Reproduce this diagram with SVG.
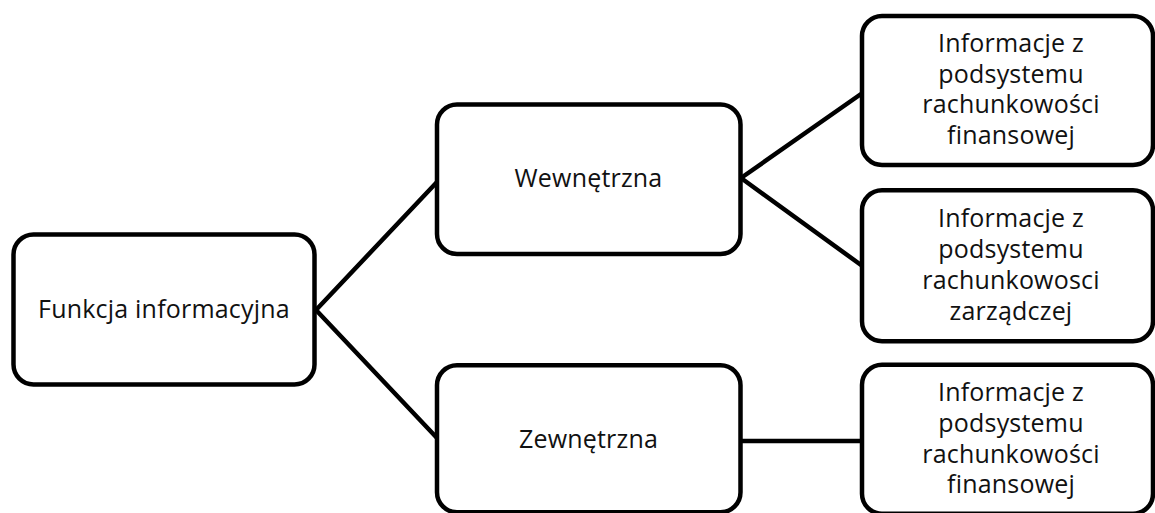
<svg xmlns="http://www.w3.org/2000/svg" width="1155" height="513" viewBox="0 0 1155 513">
  <style>
    .box { fill: #ffffff; stroke: #000000; stroke-width: 4.5; }
    .link { stroke: #000000; stroke-width: 4.5; fill: none; stroke-linecap: round; }
    .lbl { font-family: "Open Sans", Lato, "Liberation Sans", sans-serif; font-size: 25px; letter-spacing: 0.2px; fill: #111111; text-anchor: middle; }
  </style>
  <rect x="0" y="0" width="1155" height="513" fill="#ffffff"/>

  <g id="connectors">
    <line class="link" x1="316" y1="310" x2="437" y2="182"/>
    <line class="link" x1="316" y1="310" x2="437" y2="438"/>
    <line class="link" x1="741" y1="178" x2="861" y2="94"/>
    <line class="link" x1="741" y1="178" x2="861" y2="265"/>
    <line class="link" x1="741" y1="441" x2="861" y2="441"/>
  </g>

  <g id="node-funkcja">
    <rect class="box" x="13.5" y="234.5" width="301" height="150" rx="20"/>
    <text class="lbl" x="164" y="318">Funkcja informacyjna</text>
  </g>

  <g id="node-wewnetrzna">
    <rect class="box" x="437" y="104.5" width="303.5" height="149.5" rx="20"/>
    <text class="lbl" x="588.5" y="187">Wewnętrzna</text>
  </g>

  <g id="node-zewnetrzna">
    <rect class="box" x="437" y="365.3" width="303.5" height="147" rx="20"/>
    <text class="lbl" x="588.5" y="448">Zewnętrzna</text>
  </g>

  <g id="node-fin-wew">
    <rect class="box" x="862" y="16" width="291" height="149" rx="20"/>
    <text class="lbl" x="1011" y="52">Informacje z</text>
    <text class="lbl" x="1011" y="82.5">podsystemu</text>
    <text class="lbl" x="1011" y="113">rachunkowości</text>
    <text class="lbl" x="1011" y="143.5">finansowej</text>
  </g>

  <g id="node-zarz">
    <rect class="box" x="862" y="190.3" width="291" height="151" rx="20"/>
    <text class="lbl" x="1011" y="227">Informacje z</text>
    <text class="lbl" x="1011" y="258">podsystemu</text>
    <text class="lbl" x="1011" y="289">rachunkowosci</text>
    <text class="lbl" x="1011" y="320">zarządczej</text>
  </g>

  <g id="node-fin-zew">
    <rect class="box" x="862" y="364.7" width="291" height="149" rx="20"/>
    <text class="lbl" x="1011" y="400.5">Informacje z</text>
    <text class="lbl" x="1011" y="431.5">podsystemu</text>
    <text class="lbl" x="1011" y="462.5">rachunkowości</text>
    <text class="lbl" x="1011" y="493">finansowej</text>
  </g>
</svg>
